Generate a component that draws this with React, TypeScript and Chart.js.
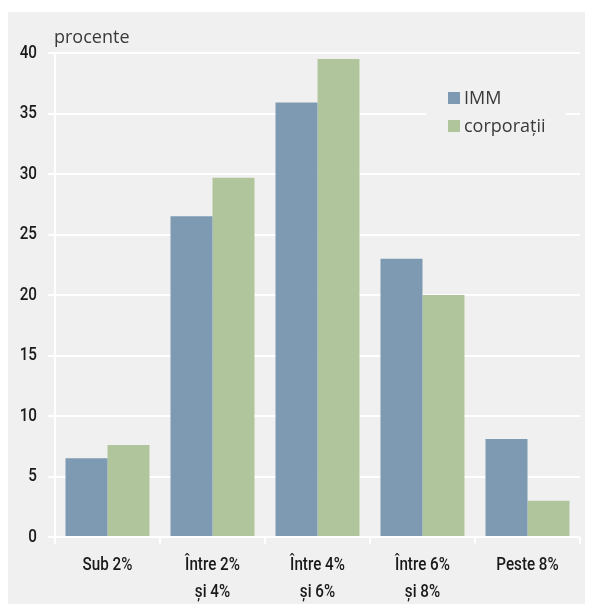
import { useEffect, useRef } from "react";
import { Chart, registerables } from "chart.js";

Chart.register(...registerables);

// Interest-rate buckets on the x axis (two-line labels)
const categories: string[][] = [
  ["Sub 2%"],
  ["Între 2%", "și 4%"],
  ["Între 4%", "și 6%"],
  ["Între 6%", "și 8%"],
  ["Peste 8%"],
];

// Share of loans per bucket, percent
const immValues = [6.5, 26.5, 35.9, 23.0, 8.1];
const corporatiiValues = [7.6, 29.7, 39.5, 20.0, 3.0];

const seriesNames = ["IMM", "corporații"];
const unitLabel = "procente";

const yMin = 0;
const yMax = 40;
const yStep = 5;

const BG = "#f0f0f0";
const IMM_COLOR = "#7e9ab2";
const CORP_COLOR = "#b1c59c";
const TICK_FONT = "500 19px Roboto, 'Liberation Sans', Arial, sans-serif";
const TICK_SQUEEZE = 0.8; // narrow, condensed look for axis labels
const TEXT_FONT = "'Open Sans', 'Noto Sans', sans-serif";

// Draws a condensed text run by squeezing it horizontally around its anchor
function squeezedText(ctx: CanvasRenderingContext2D, text: string, x: number, y: number) {
  ctx.save();
  ctx.translate(x, y);
  ctx.scale(TICK_SQUEEZE, 1);
  ctx.fillText(text, 0, 0);
  ctx.restore();
}

// Axis labels, the unit caption and the boxed legend
const annotations = {
  id: "annotations",
  afterDraw(chart: Chart) {
    const { ctx, chartArea } = chart;
    const xScale: any = chart.scales.x;
    const yScale: any = chart.scales.y;
    ctx.save();

    // y tick labels
    ctx.font = TICK_FONT;
    ctx.fillStyle = "#1a1a1a";
    ctx.textAlign = "right";
    ctx.textBaseline = "middle";
    yScale.ticks.forEach((t: any) => {
      squeezedText(ctx, String(t.value), chartArea.left - 18, yScale.getPixelForValue(t.value));
    });

    // x tick labels
    ctx.textAlign = "center";
    categories.forEach((lines, i) => {
      const cx = xScale.getPixelForTick(i);
      lines.forEach((line, j) => {
        squeezedText(ctx, line, cx, chartArea.bottom + 28 + j * 27);
      });
    });

    // unit caption
    ctx.font = `18px ${TEXT_FONT}`;
    ctx.fillStyle = "#3a3a3a";
    ctx.textAlign = "left";
    ctx.textBaseline = "alphabetic";
    ctx.fillText(unitLabel, chartArea.left - 1, chartArea.top - 10);

    // legend
    const lx = chartArea.right - 154;
    const ly = chartArea.top + 22;
    ctx.fillStyle = BG;
    ctx.fillRect(lx, ly, 140, 76);
    const colors = [IMM_COLOR, CORP_COLOR];
    seriesNames.forEach((name, i) => {
      const sy = ly + 17 + i * 28;
      ctx.fillStyle = colors[i];
      ctx.fillRect(lx + 22, sy, 12, 12);
      ctx.fillStyle = "#3a3a3a";
      ctx.fillText(name, lx + 38, sy + 12);
    });
    ctx.restore();
  },
};

export default function App() {
  const canvasRef = useRef<HTMLCanvasElement | null>(null);

  useEffect(() => {
    if (!canvasRef.current) return;
    const chart = new Chart(canvasRef.current, {
      type: "bar",
      data: {
        labels: categories,
        datasets: [
          {
            label: seriesNames[0],
            data: immValues,
            backgroundColor: IMM_COLOR,
            categoryPercentage: 0.8,
            barPercentage: 1.0,
          },
          {
            label: seriesNames[1],
            data: corporatiiValues,
            backgroundColor: CORP_COLOR,
            categoryPercentage: 0.8,
            barPercentage: 1.0,
          },
        ],
      },
      options: {
        responsive: false,
        animation: false,
        layout: { padding: { top: 41, right: 13, bottom: 0, left: 0 } },
        plugins: {
          legend: { display: false },
          tooltip: { enabled: false },
        },
        scales: {
          x: {
            offset: true,
            grid: {
              offset: true,
              drawOnChartArea: false,
              drawTicks: true,
              tickLength: 7,
              color: "#ffffff",
              lineWidth: 2,
            },
            border: { display: false },
            ticks: { display: false, autoSkip: false, maxRotation: 0 },
            afterFit(scale: any) {
              scale.height = 67;
            },
          },
          y: {
            min: yMin,
            max: yMax,
            grid: {
              color: "#ffffff",
              lineWidth: 2,
              drawTicks: true,
              tickLength: 7,
            },
            border: { display: true, color: "#ffffff", width: 2 },
            ticks: { display: false, stepSize: yStep },
            afterFit(scale: any) {
              scale.width = 47;
            },
          },
        },
      },
      plugins: [annotations],
    });
    return () => chart.destroy();
  }, []);

  return (
    <div style={{ paddingTop: 4 }}>
      <div style={{ width: 585, height: 592, background: BG }}>
        <canvas ref={canvasRef} width={585} height={592} style={{ display: "block", width: 585, height: 592 }} />
      </div>
    </div>
  );
}
